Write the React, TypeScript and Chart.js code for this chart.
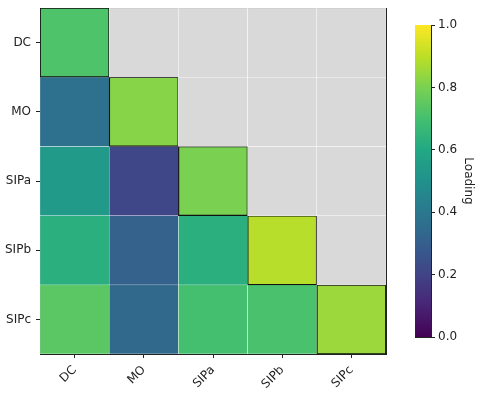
import React, { useEffect, useRef } from "react";
import { Chart, registerables } from "chart.js";

Chart.register(...registerables);

const labels = ["DC", "MO", "SIPa", "SIPb", "SIPc"];
// lower-triangular loading matrix, rows top to bottom; null = masked
const rowDC = [0.72, null, null, null, null];
const rowMO = [0.37, 0.82, null, null, null];
const rowSIPa = [0.54, 0.21, 0.80, null, null];
const rowSIPb = [0.63, 0.31, 0.63, 0.89, null];
const rowSIPc = [0.74, 0.34, 0.70, 0.71, 0.85];
const matrix = [rowDC, rowMO, rowSIPa, rowSIPb, rowSIPc];
const colorbarTicks = [0, 0.2, 0.4, 0.6, 0.8, 1.0];
const colorbarLabel = "Loading";

const VIRIDIS = [
  "#440154", "#482475", "#414487", "#355f8d", "#2a788e", "#21918c",
  "#22a884", "#44bf70", "#7ad151", "#bddf26", "#fde725",
];

function hexToRgb(h: string) {
  const n = parseInt(h.slice(1), 16);
  return [(n >> 16) & 255, (n >> 8) & 255, n & 255];
}
function viridis(t: number) {
  const x = Math.max(0, Math.min(1, t)) * 10;
  const i = Math.min(9, Math.floor(x));
  const f = x - i;
  const a = hexToRgb(VIRIDIS[i]);
  const b = hexToRgb(VIRIDIS[i + 1]);
  const c = a.map((v, k) => Math.round(v + (b[k] - v) * f));
  return `rgb(${c[0]},${c[1]},${c[2]})`;
}

const FONT = { family: "DejaVu Sans", size: 12 };
const GRAY = "#d9d9d9";

export default function App() {
  const mainRef = useRef<HTMLCanvasElement>(null);
  const cbRef = useRef<HTMLCanvasElement>(null);

  useEffect(() => {
    const datasets = matrix.map((row, r) => ({
      label: labels[r],
      data: row.map(() => [r, r + 1] as [number, number]),
      backgroundColor: row.map((v) => (v == null ? GRAY : viridis(v))),
      borderColor: row.map((_, c) => (c === r ? "#111" : "rgba(255,255,255,0.9)")),
      borderWidth: row.map((_, c) => (c === r ? 1.2 : 0.5)),
      borderSkipped: false,
      barPercentage: 1,
      categoryPercentage: 1,
      grouped: false,
    }));

    const main = new Chart(mainRef.current!, {
      type: "bar",
      data: { labels, datasets: datasets as any },
      options: {
        animation: false,
        responsive: false,
        maintainAspectRatio: false,
        layout: { padding: { top: 8, right: 14, left: 0, bottom: 0 } },
        plugins: { legend: { display: false }, tooltip: { enabled: false } },
        scales: {
          x: {
            type: "category",
            offset: true,
            afterFit: (s: any) => {
              s.height = 40;
              s.paddingLeft = 0;
              s.paddingRight = 0;
            },
            grid: { display: true, drawOnChartArea: false, offset: false, tickLength: 4, color: "#222" },
            border: { display: true, color: "#222" },
            ticks: { color: "#222", font: FONT, maxRotation: 45, minRotation: 45, padding: 5 },
          },
          x2: {
            type: "category",
            position: "top",
            offset: true,
            afterFit: (s: any) => {
              s.height = 0;
            },
            grid: { display: false, drawTicks: false },
            border: { display: true, color: "#222" },
            ticks: { display: false },
          },
          y: {
            type: "linear",
            min: 0,
            max: 5,
            reverse: true,
            afterBuildTicks: (s: any) => {
              s.ticks = labels.map((_, i) => ({ value: i + 0.5 }));
            },
            afterFit: (s: any) => {
              s.width = 40;
              s.paddingTop = 0;
              s.paddingBottom = 0;
            },
            grid: { display: true, drawOnChartArea: false, tickLength: 4, color: "#222" },
            border: { display: true, color: "#222" },
            ticks: {
              color: "#222",
              font: FONT,
              padding: 5,
              autoSkip: false,
              callback: (v: any) => labels[Math.floor(Number(v))],
            },
          },
          y2: {
            type: "linear",
            position: "right",
            min: 0,
            max: 5,
            afterFit: (s: any) => {
              s.width = 0;
              s.paddingTop = 0;
              s.paddingBottom = 0;
            },
            grid: { display: false, drawTicks: false },
            border: { display: true, color: "#222" },
            ticks: { display: false },
          },
        },
      } as any,
    });

    const cb = new Chart(cbRef.current!, {
      type: "bar",
      data: {
        labels: [""],
        datasets: [
          {
            data: [[0, 1]],
            backgroundColor: (ctx: any) => {
              const a = ctx.chart.chartArea;
              if (!a) return VIRIDIS[5];
              const g = ctx.chart.ctx.createLinearGradient(0, a.bottom, 0, a.top);
              VIRIDIS.forEach((c, i) => g.addColorStop(i / 10, c));
              return g;
            },
            borderColor: "#222",
            borderWidth: 0,
            borderSkipped: false,
            barPercentage: 1,
            categoryPercentage: 1,
          } as any,
        ],
      },
      options: {
        animation: false,
        responsive: false,
        maintainAspectRatio: false,
        layout: { padding: { top: 25, bottom: 57, left: 15, right: 5 } },
        plugins: { legend: { display: false }, tooltip: { enabled: false } },
        scales: {
          x: { display: false },
          xt: {
            type: "category",
            position: "top",
            afterFit: (s: any) => {
              s.height = 0;
            },
            grid: { display: false, drawTicks: false },
            border: { display: true, color: "#222" },
            ticks: { display: false },
          },
          xb: {
            type: "category",
            position: "bottom",
            afterFit: (s: any) => {
              s.height = 0;
            },
            grid: { display: false, drawTicks: false },
            border: { display: true, color: "#222" },
            ticks: { display: false },
          },
          yl: {
            type: "linear",
            position: "left",
            min: 0,
            max: 1,
            afterFit: (s: any) => {
              s.width = 0;
            },
            grid: { display: false, drawTicks: false },
            border: { display: true, color: "#222" },
            ticks: { display: false },
          },
          y: {
            type: "linear",
            position: "right",
            min: 0,
            max: 1,
            afterBuildTicks: (s: any) => {
              s.ticks = colorbarTicks.map((v) => ({ value: v }));
            },
            afterFit: (s: any) => {
              s.width = 44;
            },
            grid: { display: true, drawOnChartArea: false, tickLength: 4, color: "#222" },
            border: { display: true, color: "#222" },
            ticks: {
              color: "#222",
              font: FONT,
              padding: 3,
              callback: (v: any) => Number(v).toFixed(1),
            },
            title: {
              display: true,
              text: colorbarLabel,
              color: "#222",
              font: FONT,
              padding: { top: 0, bottom: 0 },
            },
          },
        },
      } as any,
    });

    return () => {
      main.destroy();
      cb.destroy();
    };
  }, []);

  return (
    <div style={{ position: "fixed", left: 0, top: 0, width: 480, height: 394, background: "#fff" }}>
      <canvas ref={mainRef} width={400} height={394} style={{ position: "absolute", left: 0, top: 0 }} />
      <canvas ref={cbRef} width={80} height={394} style={{ position: "absolute", left: 400, top: 0 }} />
    </div>
  );
}
